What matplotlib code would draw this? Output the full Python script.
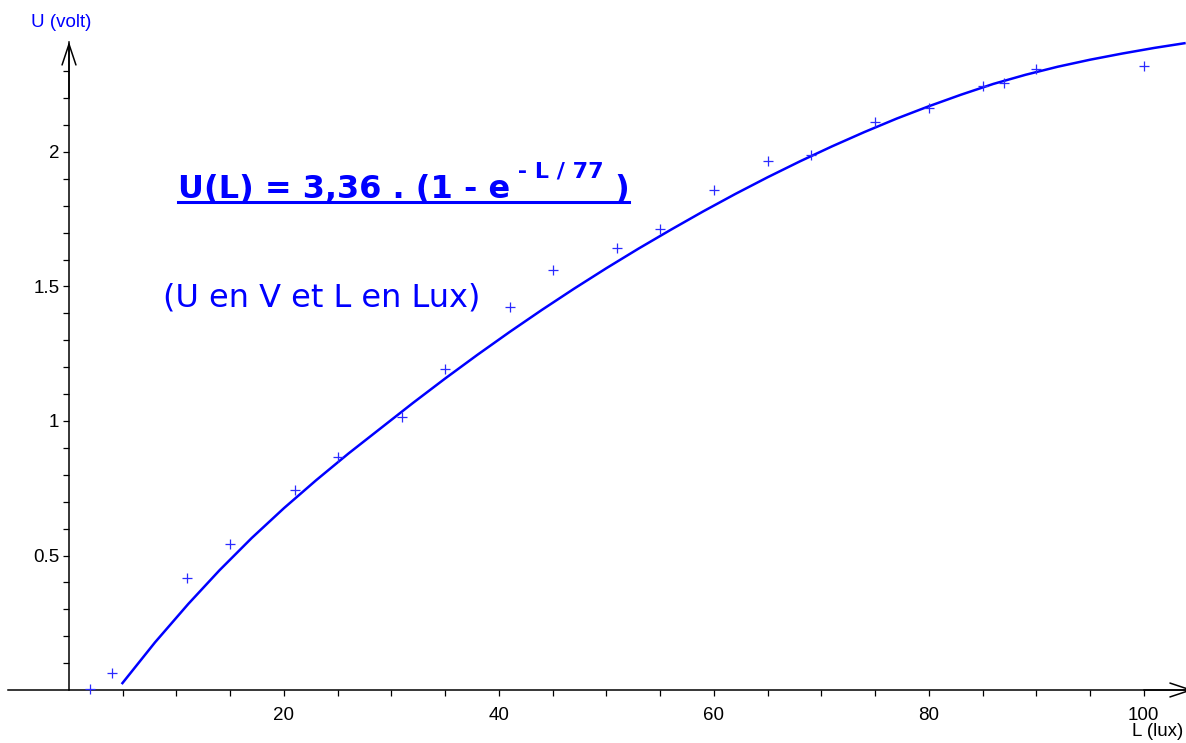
import matplotlib
matplotlib.use('Agg')
import matplotlib.pyplot as plt
from matplotlib.lines import Line2D

# mesures (L en lux, U en volt)
lux = [2, 4, 11, 15, 21, 25, 31, 35, 41, 45, 51, 55, 60, 65, 69, 75, 80, 85, 87, 90, 100]
volt = [0.005, 0.065, 0.415, 0.543, 0.743, 0.865, 1.014, 1.192, 1.423, 1.561, 1.642, 1.713,
        1.859, 1.967, 1.99, 2.11, 2.165, 2.245, 2.255, 2.31, 2.32]

# courbe modele
curve_lux = [4.9, 8, 11.1, 14, 17, 20, 23, 26, 29, 32, 35, 38, 41, 44, 47, 50, 53, 56,
             59, 62, 65, 68, 71, 74, 77, 80, 83, 86, 89, 92, 95, 98, 101, 103.9]
curve_volt = [0.022, 0.177, 0.320, 0.445, 0.565, 0.676, 0.780, 0.879, 0.973, 1.067,
              1.158, 1.246, 1.331, 1.413, 1.492, 1.568, 1.641, 1.711, 1.779, 1.844,
              1.906, 1.965, 2.021, 2.074, 2.124, 2.170, 2.213, 2.253, 2.287, 2.317,
              2.343, 2.366, 2.387, 2.405]

xticks = [20, 40, 60, 80, 100]
xlabels = ['20', '40', '60', '80', '100']
yticks = [0.5, 1, 1.5, 2]
ylabels = ['0.5', '1', '1.5', '2']

BLUE = '#0000ff'
tickfont = 'Liberation Sans'

fig = plt.figure(figsize=(11.86, 7.43), dpi=100)
ax = fig.add_axes([0, 0, 1, 1])
ax.set_xlim(-6.42, 103.93)
ax.set_ylim(-0.197, 2.565)

ax.plot(curve_lux, curve_volt, color=BLUE, lw=1.8, solid_capstyle='butt',
        solid_joinstyle='round', zorder=3)
ax.plot(lux, volt, ls='none', marker='+', ms=7.5, mew=0.9, color='#2a2aff', zorder=4)

# axes
for side in ['top', 'right']:
    ax.spines[side].set_visible(False)
ax.spines['left'].set_position(('data', 0))
ax.spines['bottom'].set_position(('data', 0))
ax.spines['left'].set_bounds(0, 2.41)
ax.spines['bottom'].set_bounds(-5.7, 104)
for side in ['left', 'bottom']:
    ax.spines[side].set_linewidth(1.1)

arrow = dict(arrowstyle='->,head_length=1.5,head_width=0.5', lw=1.1, color='black',
             shrinkA=0, shrinkB=0)
ax.annotate('', xy=(0, 2.41), xytext=(0, 2.2), arrowprops=arrow)
ax.annotate('', xy=(104.6, 0), xytext=(100, 0), arrowprops=arrow, annotation_clip=False)

ax.set_xticks(xticks, labels=xlabels)
ax.set_yticks(yticks, labels=ylabels)
ax.set_xticks(range(5, 101, 5), minor=True)
ax.set_yticks([i / 10 for i in range(1, 24)], minor=True)
ax.tick_params(which='both', direction='out', length=4, width=0.9)
ax.tick_params(axis='x', pad=8)
ax.tick_params(axis='y', pad=3)
for lab in ax.get_xticklabels() + ax.get_yticklabels():
    lab.set_fontfamily(tickfont)
    lab.set_fontsize(13.5)

ax.text(-0.7, 2.48, 'U (volt)', color=BLUE, fontsize=13.5, family=tickfont,
        ha='center', va='center')
ax.text(101.3, -0.156, 'L (lux)', color='black', fontsize=13.5, family=tickfont,
        ha='center', va='center')

# formule
t1 = ax.text(10.14, 1.829, 'U(L) = 3,36 . (1 - e', color=BLUE, fontsize=23,
             fontweight='bold', va='baseline', ha='left')
t2 = ax.annotate(' - L / 77', xy=(1, 0.75), xycoords=t1, color=BLUE, fontsize=16,
                 fontweight='bold', va='bottom', ha='left')
t3 = ax.annotate(' )', xy=(1, 0), xycoords=(t2, t1), color=BLUE, fontsize=23,
                 fontweight='bold', va='bottom', ha='left')
ax.text(8.74, 1.424, '(U en V et L en Lux)', color=BLUE, fontsize=23,
        va='baseline', ha='left')

fig.canvas.draw()
r = fig.canvas.get_renderer()
b1 = t1.get_window_extent(r)
b3 = t3.get_window_extent(r)
yline = fig.transFigure.inverted().transform((0, ax.transData.transform((0, 1.829))[1] - 4))[1]
x0 = fig.transFigure.inverted().transform((b1.x0, 0))[0]
x1 = fig.transFigure.inverted().transform((b3.x1, 0))[0]
fig.add_artist(Line2D([x0, x1], [yline, yline], color=BLUE, lw=2.2,
                      transform=fig.transFigure))

fig.savefig('out.png', dpi=100)
